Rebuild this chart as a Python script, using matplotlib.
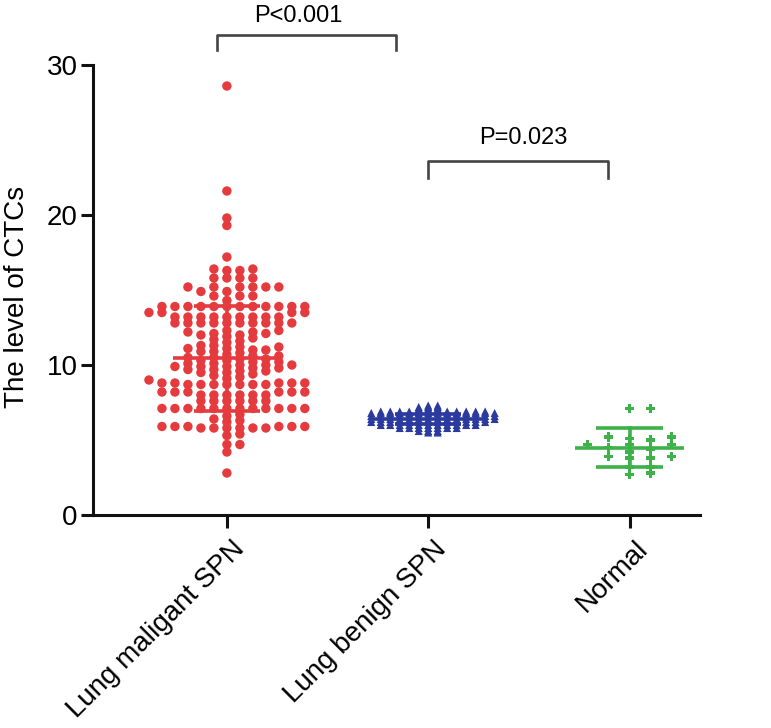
import numpy as np
import matplotlib
matplotlib.use("Agg")
import matplotlib.pyplot as plt
from matplotlib.transforms import ScaledTranslation

plt.rcParams["font.family"] = ["Liberation Sans", "DejaVu Sans"]

# ---- data ----
groups = ["Lung maligant SPN", "Lung benign SPN", "Normal"]

malignant = [
    28.6, 21.6, 19.8, 19.3, 17.2,
    16.4, 16.4, 16.3, 16.3, 15.8, 15.8, 15.8, 15.8,
    15.2, 15.2, 15.2, 15.2, 15.2, 15.2, 14.9, 14.9, 14.6, 14.6, 14.6, 14.3,
    13.9, 13.9, 13.9, 13.9, 13.9, 13.9, 13.9, 13.9, 13.9, 13.9, 13.9, 13.9,
    13.5, 13.5, 13.5, 13.5,
    13.2, 13.2, 13.2, 13.2, 13.2, 13.2, 13.2, 13.2, 13.2,
    12.8, 12.8, 12.8, 12.8, 12.8, 12.8, 12.8, 12.8, 12.8, 12.8,
    12.3, 12.3, 12.2, 12.2, 12.1, 12.1, 12.0, 12.0, 11.9, 11.8, 11.7, 11.6, 11.5,
    11.3, 11.3, 11.2, 11.2, 11.1, 11.1, 11.0, 11.0, 10.9, 10.9, 10.8, 10.7, 10.6,
    10.6, 10.5, 10.5, 10.4, 10.4, 10.3, 10.3, 10.2, 10.2, 10.1, 10.1, 10.0, 9.9,
    10.0, 10.0, 9.9, 9.9, 9.8, 9.8, 9.7, 9.7, 9.6, 9.6, 9.5, 9.5, 9.4,
    9.3, 9.2, 9.1, 9.0,
    8.8, 8.8, 8.8, 8.8, 8.8, 8.7, 8.7, 8.7, 8.7, 8.7, 8.7, 8.7,
    8.2, 8.2, 8.2, 8.2, 8.2, 8.2, 8.0, 8.0, 8.0, 8.0, 8.0, 8.0,
    7.6, 7.6, 7.6, 7.6, 7.6, 7.6,
    7.1, 7.1, 7.1, 7.1, 7.1, 7.1, 7.1, 7.1, 7.1, 7.1, 7.1, 7.1,
    6.7, 6.6, 6.4, 6.3, 6.2,
    5.9, 5.9, 5.9, 5.9, 5.9, 5.9, 5.8, 5.8, 5.8, 5.8, 5.8, 5.8,
    5.4, 5.3, 4.7, 4.7, 4.2, 2.8,
]

benign = [
    7.3, 7.3, 7.2, 7.2, 7.2, 7.1, 7.1, 7.1, 7.0, 7.0, 7.0,
    6.9, 6.9, 6.9, 6.9, 6.9, 6.9, 6.9, 6.9, 6.9, 6.9, 6.9, 6.9,
    6.8, 6.8, 6.8, 6.8, 6.8, 6.8, 6.8, 6.8, 6.8, 6.8, 6.8, 6.8, 6.8, 6.8,
    6.6, 6.6, 6.6, 6.6, 6.6, 6.6, 6.6, 6.6, 6.6, 6.6, 6.6, 6.6, 6.6, 6.6,
    6.4, 6.4, 6.4, 6.4, 6.4, 6.4, 6.4, 6.4, 6.4, 6.4, 6.4, 6.4, 6.4, 6.4,
    6.2, 6.2, 6.2, 6.2, 6.2, 6.2, 6.2, 6.2, 6.2, 6.2, 6.2, 6.2, 6.2,
    6.0, 6.0, 6.0, 6.0, 6.0, 6.0, 6.0, 6.0, 6.0, 6.0, 6.0,
    5.8, 5.8, 5.8, 5.8, 5.8, 5.8, 5.8,
    5.6, 5.6, 5.6, 5.5, 5.5,
]

normal = [
    7.1, 7.1, 5.2, 5.1, 5.2, 5.0, 4.7, 4.7, 4.7, 4.2,
    3.9, 3.8, 3.8, 3.9, 3.2, 3.2, 2.7, 2.8, 4.5, 4.4,
]

# mean and SD lines as drawn in the figure
means = [10.45, 6.4, 4.5]
sd_hi = [13.95, 6.75, 5.8]
sd_lo = [6.95, 6.05, 3.2]

colors = ["#E63B3E", "#2A3A9F", "#3DB249"]

# pixels per data unit on the original figure (used for the dot layout)
XPPU = 201.5
YPPU = 15.0


def swarm(vals, center, spacing, dy_tol):
    """Row-wise dot layout: points closer than dy_tol vertically sit side by side."""
    vals = np.asarray(vals, dtype=float)
    xs = np.zeros(len(vals))
    placed = []
    step = spacing / 2.0
    for i in np.argsort(vals, kind="stable"):
        y = vals[i] * YPPU
        near = [px for px, py in placed if abs(py - y) < dy_tol]
        k = 0
        found = None
        while found is None:
            for c in ([0.0] if k == 0 else [k * step, -k * step]):
                if all(abs(c - px) >= spacing - 1e-9 for px in near):
                    found = c
                    break
            k += 1
        placed.append((found, y))
        xs[i] = center + found / XPPU
    return xs


fig = plt.figure(figsize=(7.71, 7.28), dpi=100)
ax = fig.add_axes([93 / 771, 1 - 515 / 728, 607 / 771, 450 / 728])

data = [malignant, benign, normal]
markers = ["o", "^", "P"]
msizes = [46, 34, 50]
spacings = [13, 9.5, 21]
tols = [5.5, 1.0, 6.0]

for i, vals in enumerate(data):
    xs = swarm(vals, i, spacings[i], tols[i])
    ax.scatter(xs, vals, s=msizes[i], marker=markers[i], color=colors[i],
               edgecolors="none", zorder=3, clip_on=False)
    # mean line and SD bars
    ax.plot([i - 0.27, i + 0.27], [means[i], means[i]], color=colors[i], lw=2.6,
            zorder=4, solid_capstyle="butt")
    ax.plot([i, i], [sd_lo[i], sd_hi[i]], color=colors[i], lw=2.6, zorder=4)
    for v in (sd_lo[i], sd_hi[i]):
        ax.plot([i - 0.165, i + 0.165], [v, v], color=colors[i], lw=2.6,
                zorder=4, solid_capstyle="butt")

ax.set_xlim(-0.665, 2.35)
ax.set_ylim(0, 30)
ax.set_yticks([0, 10, 20, 30])
ax.set_xticks(range(len(groups)))
ax.set_xticklabels(groups)

for s in ["top", "right"]:
    ax.spines[s].set_visible(False)
for s in ["left", "bottom"]:
    ax.spines[s].set_linewidth(2.2)
    ax.spines[s].set_color("#111111")

ax.tick_params(axis="both", width=2.2, length=9, color="#111111", labelsize=20)
ax.tick_params(axis="y", pad=2)
ax.tick_params(axis="x", pad=6, labelsize=20)

offset = ScaledTranslation(0.05, 0, fig.dpi_scale_trans)
for lab in ax.get_xticklabels():
    lab.set_rotation(45)
    lab.set_rotation_mode("anchor")
    lab.set_ha("right")
    lab.set_va("top")
    lab.set_transform(lab.get_transform() + offset)

fig.text(17 / 771, 1 - 297 / 728, "The level of CTCs", rotation=90,
         ha="center", va="center", fontsize=20)

# significance brackets
br = "#444444"
ax.plot([-0.05, -0.05, 0.84, 0.84], [31.0, 32.0, 32.0, 31.0], color=br, lw=1.9,
        clip_on=False)
ax.text(0.357, 33.3, "P<0.001", ha="center", va="center", fontsize=17)
ax.plot([1.0, 1.0, 1.895, 1.895], [22.45, 23.6, 23.6, 22.45], color=br, lw=1.9,
        clip_on=False)
ax.text(1.474, 25.15, "P=0.023", ha="center", va="center", fontsize=17)

fig.savefig("out.png", dpi=100)
